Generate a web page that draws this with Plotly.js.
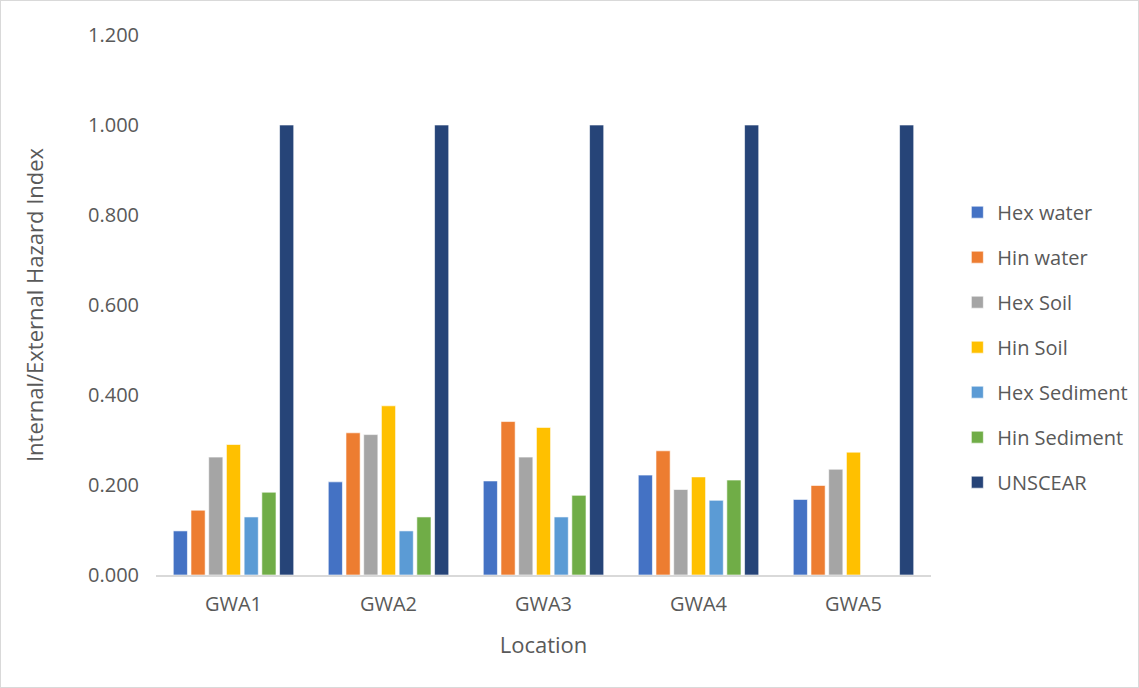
<!DOCTYPE html>
<html>
<head>
<meta charset="utf-8">
<script src="https://cdn.plot.ly/plotly-3.0.1.min.js"></script>
<style>
html,body{margin:0;padding:0;background:#fff;}
#chart{width:1139px;height:688px;box-sizing:border-box;border:1px solid #d9d9d9;}
</style>
</head>
<body>
<div id="chart"></div>
<script>
const locations = ["GWA1", "GWA2", "GWA3", "GWA4", "GWA5"];
const hexWater    = [0.098, 0.207, 0.209, 0.222, 0.168];
const hinWater    = [0.144, 0.316, 0.341, 0.276, 0.199];
const hexSoil     = [0.262, 0.312, 0.262, 0.190, 0.235];
const hinSoil     = [0.290, 0.376, 0.328, 0.218, 0.273];
const hexSediment = [0.129, 0.098, 0.129, 0.166, null];
const hinSediment = [0.184, 0.129, 0.177, 0.211, null];
const unscear     = [1.000, 1.000, 1.000, 1.000, 1.000];

const seriesNames  = ["Hex water", "Hin water", "Hex Soil", "Hin Soil", "Hex Sediment", "Hin Sediment", "UNSCEAR"];
const seriesValues = [hexWater, hinWater, hexSoil, hinSoil, hexSediment, hinSediment, unscear];
const seriesColors = ["#4472c4", "#ed7d31", "#a5a5a5", "#ffc000", "#5b9bd5", "#70ad47", "#264478"];

const font = "Open Sans, Liberation Sans, sans-serif";
const textColor = "#595959";

const traces = seriesNames.map((name, i) => ({
  type: "bar",
  name: name,
  x: locations,
  y: seriesValues[i],
  legendgroup: "g" + i,
  marker: {color: seriesColors[i], line: {color: "rgba(255,255,255,0.6)", width: 1}},
  hoverinfo: "x+y+name"
}));

const layout = {
  width: 1139,
  height: 688,
  margin: {l: 155, r: 209, t: 34, b: 114, autoexpand: false},
  paper_bgcolor: "rgba(0,0,0,0)",
  plot_bgcolor: "#ffffff",
  barmode: "group",
  bargap: 0.2,
  bargroupgap: 0.2,
  font: {family: font, size: 20, color: textColor},
  xaxis: {
    title: {text: "Location", font: {family: font, size: 22, color: textColor}, standoff: 22},
    showline: true, linecolor: "#d9d9d9", linewidth: 2,
    ticks: "", showgrid: false, zeroline: false,
    ticklabelstandoff: 10,
    tickfont: {family: font, size: 20, color: textColor}
  },
  yaxis: {
    title: {text: "Internal/External Hazard Index", font: {family: font, size: 22, color: textColor}, standoff: 38},
    range: [0, 1.2], dtick: 0.2, tickformat: ".3f",
    showgrid: false, zeroline: false, showline: false, ticks: "",
    ticklabelstandoff: 16,
    tickfont: {family: font, size: 20, color: textColor}
  },
  legend: {
    x: 1.034, y: 0.708, xanchor: "left", yanchor: "top",
    font: {family: font, size: 20, color: textColor},
    tracegroupgap: 16, itemwidth: 30
  },
  showlegend: true
};

Plotly.newPlot("chart", traces, layout, {displayModeBar: false});
</script>
</body>
</html>
